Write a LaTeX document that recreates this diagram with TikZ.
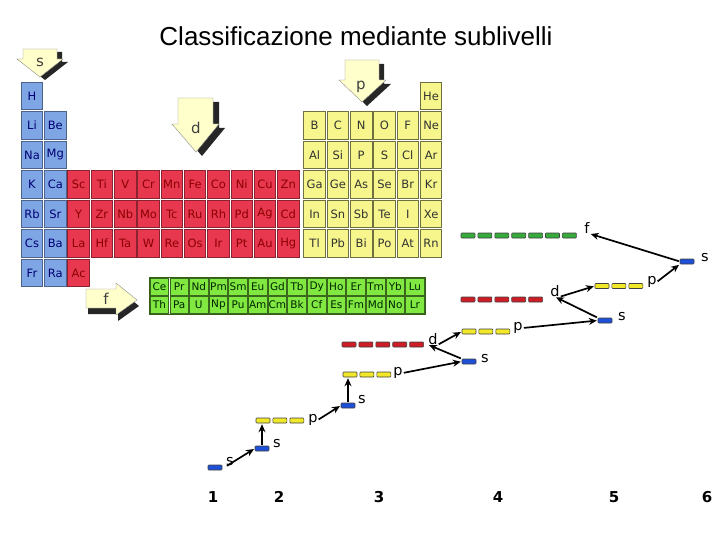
\documentclass[tikz,border=0pt]{standalone}
\usepackage{fontspec}
\setmainfont{Liberation Sans}
\newfontfamily\symfont{DejaVu Sans}
\usetikzlibrary{arrows.meta}
\definecolor{sblk}{RGB}{127,166,228}
\definecolor{dblk}{RGB}{232,56,80}
\definecolor{pblk}{RGB}{246,246,140}
\definecolor{fblk}{RGB}{128,232,64}
\definecolor{cream}{RGB}{255,255,204}
\definecolor{orbblue}{RGB}{30,80,215}
\definecolor{orbyellow}{RGB}{240,232,40}
\definecolor{orbred}{RGB}{205,30,40}
\definecolor{orbgreen}{RGB}{55,170,60}
\tikzset{
  cell/.style={line width=0.8pt, minimum width=21.5, minimum height=27.5,
    font=\symfont\fontsize{11.5}{11.5}\selectfont},
  sel/.style={cell, fill=sblk, draw=sblk!60!black, text=blue!45!black},
  del/.style={cell, fill=dblk, draw=dblk!60!black, text=red!55!black},
  pel/.style={cell, fill=pblk, draw=pblk!45!black, text=black!80},
  fel/.style={cell, fill=fblk, draw=fblk!45!black, text=black!85!green,
    minimum width=18.5, minimum height=17, font=\symfont\fontsize{10.5}{10.5}\selectfont},
  blocklab/.style={font=\symfont\fontsize{15}{15}\selectfont, text=black!75},
  sublab/.style={font=\symfont\fontsize{14.5}{14.5}\selectfont},
  shell/.style={font=\symfont\bfseries\fontsize{15}{15}\selectfont},
  arr/.style={-{Stealth[length=8,width=7]}, line width=1.7, shorten >=1, shorten <=1}
}
% one energy level: name, left x, mid y, boxes, colour
\newcommand\orbrow[5]{%
  \node[minimum width={16.9*#4-2.9}, minimum height=5] (#1) at ({#2+(16.9*#4-2.9)/2},#3) {};
  \foreach \k in {1,...,#4}
    \filldraw[draw=black!75, fill=#5, line width=0.6pt, rounded corners=0.8]
      ({#2+16.9*(\k-1)},{#3-2.5}) rectangle ++(14,5);
}
\begin{document}
\begin{tikzpicture}[x=1pt,y=-1pt,every node/.style={inner sep=0pt}]
\useasboundingbox (0,0) rectangle (720,540);
\node[anchor=base, font=\fontsize{26}{26}\selectfont] (title) at (356,46) {Classificazione mediante sublivelli};

% s block
\foreach \sym/\c/\r in {H/0/0,Li/0/1,Be/1/1,Na/0/2,Mg/1/2,K/0/3,Ca/1/3,Rb/0/4,Sr/1/4,Cs/0/5,Ba/1/5,Fr/0/6,Ra/1/6}
  \node[sel] (\sym) at ({32+23.3*\c},{96+29.5*\r}) {\sym};
% d block
\foreach \sym [count=\c from 2] in {Sc,Ti,V,Cr,Mn,Fe,Co,Ni,Cu,Zn}
  \node[del] (\sym) at ({32+23.3*\c},184.5) {\sym};
\foreach \sym [count=\c from 2] in {Y,Zr,Nb,Mo,Tc,Ru,Rh,Pd,Ag,Cd}
  \node[del] (\sym) at ({32+23.3*\c},214) {\sym};
\foreach \sym [count=\c from 2] in {La,Hf,Ta,W,Re,Os,Ir,Pt,Au,Hg}
  \node[del] (\sym) at ({32+23.3*\c},243.5) {\sym};
\node[del] (Ac) at ({32+23.3*2},273) {Ac};
% p block
\node[pel] (He) at ({35+23.3*17},96) {He};
\foreach \sym [count=\c from 12] in {B,C,N,O,F,Ne}
  \node[pel] (\sym) at ({35+23.3*\c},125.5) {\sym};
\foreach \sym [count=\c from 12] in {Al,Si,P,S,Cl,Ar}
  \node[pel] (\sym) at ({35+23.3*\c},155) {\sym};
\foreach \sym [count=\c from 12] in {Ga,Ge,As,Se,Br,Kr}
  \node[pel] (\sym) at ({35+23.3*\c},184.5) {\sym};
\foreach \sym [count=\c from 12] in {In,Sn,Sb,Te,I,Xe}
  \node[pel] (\sym) at ({35+23.3*\c},214) {\sym};
\foreach \sym [count=\c from 12] in {Tl,Pb,Bi,Po,At,Rn}
  \node[pel] (\sym) at ({35+23.3*\c},243.5) {\sym};
% f block
\foreach \sym [count=\c from 0] in {Ce,Pr,Nd,Pm,Sm,Eu,Gd,Tb,Dy,Ho,Er,Tm,Yb,Lu}
  \node[fel] (\sym) at ({159.5+19.65*\c},287) {\sym};
\foreach \sym [count=\c from 0] in {Th,Pa,U,Np,Pu,Am,Cm,Bk,Cf,Es,Fm,Md,No,Lr}
  \node[fel] (\sym) at ({159.5+19.65*\c},305) {\sym};
\draw[fblk!40!black] (149.5,277.5) rectangle (425.5,314.5);

% block arrows
\fill[black!85,shift={(5,3)}] (23,49) -- (57,49) -- (57,59) -- (63,59) -- (40,77) -- (17,59) -- (23,59) -- cycle;
\filldraw[fill=cream,draw=black!45] (23,49) -- (57,49) -- (57,59) -- (63,59) -- (40,77) -- (17,59) -- (23,59) -- cycle;
\node[blocklab] (sarrow) at (40,62) {s};
\fill[black!85,shift={(6,4)}] (178,98) -- (213,98) -- (213,124) -- (219,124) -- (196,152) -- (172,124) -- (178,124) -- cycle;
\filldraw[fill=cream,draw=black!45] (178,98) -- (213,98) -- (213,124) -- (219,124) -- (196,152) -- (172,124) -- (178,124) -- cycle;
\node[blocklab] (darrow) at (196,128) {d};
\fill[black!85,shift={(5,4)}] (345,60) -- (379,60) -- (379,80) -- (386,80) -- (362,102) -- (339,80) -- (345,80) -- cycle;
\filldraw[fill=cream,draw=black!45] (345,60) -- (379,60) -- (379,80) -- (386,80) -- (362,102) -- (339,80) -- (345,80) -- cycle;
\node[blocklab] (parrow) at (361,87) {p};
\fill[black!85,shift={(2,6)}] (86,289) -- (116,289) -- (116,283) -- (137,300) -- (116,315) -- (116,308) -- (86,308) -- cycle;
\filldraw[fill=cream,draw=black!45] (86,289) -- (116,289) -- (116,283) -- (137,300) -- (116,315) -- (116,308) -- (86,308) -- cycle;
\node[blocklab] (farrow) at (106,299) {f};

% energy levels
\orbrow{1s}{208}{467.5}{1}{orbblue}
\orbrow{2s}{255}{448.5}{1}{orbblue}
\orbrow{2p}{256}{420.5}{3}{orbyellow}
\orbrow{3s}{341}{405.5}{1}{orbblue}
\orbrow{3p}{343}{374.5}{3}{orbyellow}
\orbrow{4s}{462}{361.5}{1}{orbblue}
\orbrow{3d}{342}{344.5}{5}{orbred}
\orbrow{4p}{462}{331.5}{3}{orbyellow}
\orbrow{5s}{598}{320.5}{1}{orbblue}
\orbrow{4d}{461}{299.5}{5}{orbred}
\orbrow{5p}{595}{286}{3}{orbyellow}
\orbrow{6s}{680}{261.5}{1}{orbblue}
\orbrow{4f}{461}{235.5}{7}{orbgreen}
\node[sublab] (l1s) at (230,462) {s};
\node[sublab] (l2s) at (277,444) {s};
\node[sublab] (l2p) at (313,420) {p};
\node[sublab] (l3s) at (362,400) {s};
\node[sublab] (l3p) at (398,373) {p};
\node[sublab] (l4s) at (485,359) {s};
\node[sublab] (l3d) at (433,339) {d};
\node[sublab] (l4p) at (518,328) {p};
\node[sublab] (l5s) at (622,317) {s};
\node[sublab] (l4d) at (555,291) {d};
\node[sublab] (l5p) at (652,282) {p};
\node[sublab] (l6s) at (705,258) {s};
\node[sublab] (l4f) at (587,228) {f};

% filling order
\draw[arr] (l1s.south west) -- (2s.west);
\draw[arr] (2s.north) -- (2s.north |- 2p.south);
\draw[arr] (l2p.east) -- (3s.west);
\draw[arr] (3s.north) -- (3s.north |- 3p.south);
\draw[arr] (l3p.east) -- (4s.west);
\draw[arr] (4s.north west) -- (l3d.south west);
\draw[arr] (l3d.south east) -- (4p.west);
\draw[arr] (l4p.east) -- (5s.west);
\draw[arr] (5s.north west) -- (l4d.south);
\draw[arr] (l4d.south east) -- (5p.west);
\draw[arr] (l5p.east) -- (6s.south west);
\draw[arr] (6s.west) -- (l4f.south east);

% shells
\node[shell] (n1) at (213,497) {1};
\node[shell] (n2) at (279,497) {2};
\node[shell] (n3) at (379,497) {3};
\node[shell] (n4) at (498,497) {4};
\node[shell] (n5) at (614,497) {5};
\node[shell] (n6) at (707,497) {6};
\end{tikzpicture}
\end{document}
